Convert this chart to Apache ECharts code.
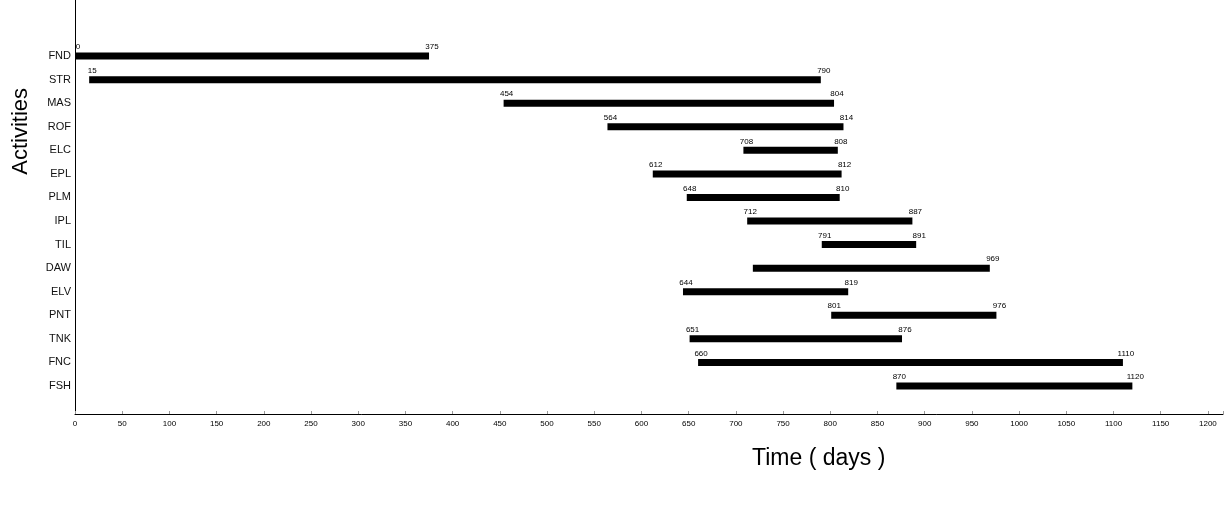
<!DOCTYPE html>
<html>
<head>
<meta charset="utf-8">
<script src="https://cdn.jsdelivr.net/npm/echarts@6/dist/echarts.min.js"></script>
<style>
html,body{margin:0;padding:0;background:#fff;}
#c{width:1227px;height:530px;}
</style>
</head>
<body>
<div id="c"></div>
<script>
const activities = ['FND','STR','MAS','ROF','ELC','EPL','PLM','IPL','TIL','DAW','ELV','PNT','TNK','FNC','FSH'];
const starts = [0, 15, 454, 564, 708, 612, 648, 712, 791, 718, 644, 801, 651, 660, 870];
const ends = [375, 790, 804, 814, 808, 812, 810, 887, 891, 969, 819, 976, 876, 1110, 1120];
const startLabels = ['0','15','454','564','708','612','648','712','791','','644','801','651','660','870'];
const endLabels = ['375','790','804','814','808','812','810','887','891','969','819','976','876','1110','1120'];
const xTicks = [0,50,100,150,200,250,300,350,400,450,500,550,600,650,700,750,800,850,900,950,1000,1050,1100,1150,1200];

const data = activities.map((a, i) => [starts[i], ends[i], i, startLabels[i], endLabels[i]]);

const chart = echarts.init(document.getElementById('c'), null, {renderer: 'canvas'});
chart.setOption({
  animation: false,
  backgroundColor: '#fff',
  grid: {left: 75, right: 4, top: 0, bottom: 116},
  xAxis: {
    type: 'value', min: 0, max: 1216, interval: 50,
    axisLine: {show: true, onZero: false, lineStyle: {color: '#000', width: 1}},
    axisTick: {show: true, inside: true, length: 3, lineStyle: {color: '#999'}},
    splitLine: {show: false},
    axisLabel: {
      color: '#000', fontSize: 8, fontFamily: 'Liberation Sans, Arial', margin: 6,
      formatter: v => xTicks.indexOf(v) >= 0 ? String(v) : ''
    }
  },
  yAxis: {
    type: 'value', inverse: true, min: -2.38, max: 15.19, minInterval: 1, maxInterval: 1,
    axisLine: {show: true, onZero: false, lineStyle: {color: '#000', width: 1}},
    axisTick: {show: false},
    splitLine: {show: false},
    axisLabel: {
      color: '#111', fontSize: 11, fontFamily: 'Liberation Sans, Arial', margin: 4,
      formatter: v => (Number.isInteger(v) && activities[v] !== undefined) ? activities[v] : ''
    }
  },
  graphic: [
    {type: 'text', left: 10, top: 88, rotation: Math.PI / 2,
     style: {text: 'Activities', fontSize: 22, fontFamily: 'Liberation Sans, Arial', fill: '#000'}},
    {type: 'text', left: 752, top: 447,
     style: {text: 'Time ( days )', fontSize: 23, fontFamily: 'Liberation Sans, Arial', fill: '#000'}}
  ],
  series: [{
    type: 'custom',
    data: data,
    encode: {x: [0, 1], y: 2},
    renderItem: function (params, api) {
      const s = api.coord([api.value(0), api.value(2)]);
      const e = api.coord([api.value(1), api.value(2)]);
      const sl = data[params.dataIndex][3];
      const el = data[params.dataIndex][4];
      return {
        type: 'group',
        children: [
          {type: 'rect', shape: {x: s[0], y: s[1] - 3.5, width: e[0] - s[0], height: 7},
           style: {fill: '#000'}},
          {type: 'text', style: {text: sl, x: s[0] + 3, y: s[1] - 5, align: 'center', verticalAlign: 'bottom',
            fontSize: 8, fontFamily: 'Liberation Sans, Arial', fill: '#000'}},
          {type: 'text', style: {text: el, x: e[0] + 3, y: s[1] - 5, align: 'center', verticalAlign: 'bottom',
            fontSize: 8, fontFamily: 'Liberation Sans, Arial', fill: '#000'}}
        ]
      };
    }
  }]
});
</script>
</body>
</html>
